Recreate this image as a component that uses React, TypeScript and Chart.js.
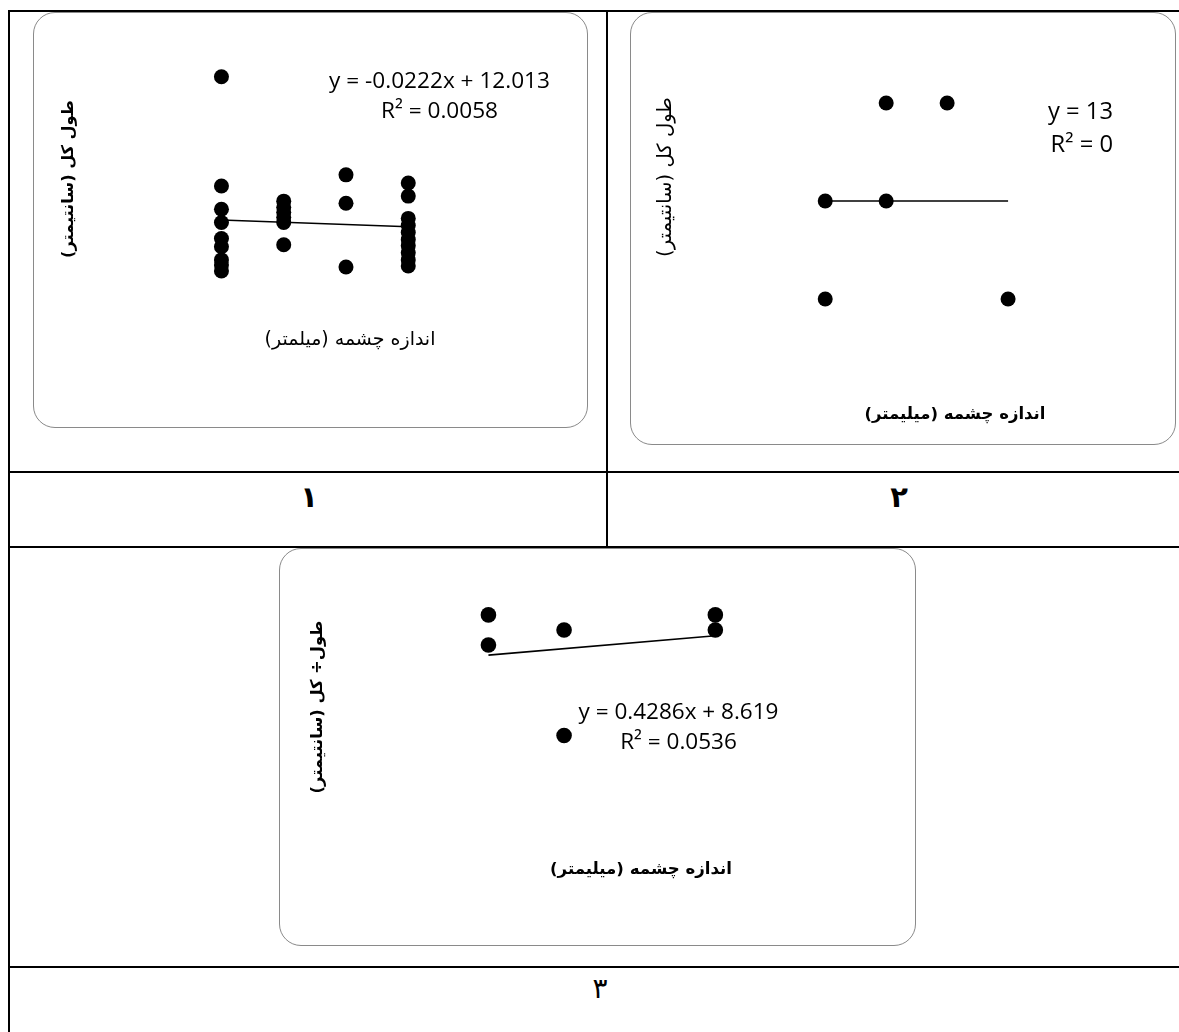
import React, { useEffect, useRef } from 'react';
import { Chart, registerables } from 'chart.js';

Chart.register(...registerables);

// ---------------- data ----------------
// Panel 1
const meshSize1 = [4, 4, 4, 4, 4, 4, 4, 4, 4, 5, 5, 5, 5, 5, 5, 6, 6, 6, 7, 7, 7, 7, 7, 7, 7, 7, 7, 7];
const totalLength1 = [
  13.34, 12.26, 12.03, 11.9, 11.74, 11.66, 11.53, 11.48, 11.42,
  12.11, 12.05, 12.0, 11.95, 11.9, 11.68,
  12.37, 12.09, 11.46,
  12.29, 12.16, 11.94, 11.87, 11.8, 11.73, 11.67, 11.6, 11.53, 11.47,
];
const trend1 = [-0.0222, 12.013]; // slope, intercept
const equation1 = ['y = -0.0222x + 12.013', 'R² = 0.0058'];

// Panel 2
const meshSize2 = [4, 4, 5, 5, 6, 7];
const totalLength2 = [13, 12, 14, 13, 14, 12];
const trend2 = [0, 13];
const equation2 = ['y = 13', 'R² = 0'];

// Panel 3
const meshSize3 = [4, 4, 5, 5, 7, 7];
const totalLength3 = [13, 11, 12, 5, 13, 12];
const trend3 = [0.4286, 8.619];
const equation3 = ['y = 0.4286x + 8.619', 'R² = 0.0536'];

// hidden axis ranges
const xRange1 = [1.094, 9.766];
const yRange1 = [9.943, 13.905];
const xRange2 = [0.92, 9.632];
const yRange2 = [10.586, 14.852];
const xRange3 = [1.334, 9.55];
const yRange3 = [-8.433, 16.917];

// texts
const yTitleA = 'طول کل (سانتیمتر)';
const yTitleB = 'طول÷ کل (سانتیمتر)';
const xTitleA = 'اندازه چشمه (میلمتر)';
const xTitleB = 'اندازه چشمه (میلیمتر)';
const panelNumbers = ['۱', '۲', '۳'];

// ---------------- helpers ----------------
const FA = '"DejaVu Sans", sans-serif';
const EN = '"Open Sans", sans-serif';

type Label = {
  text: string;
  x: number;
  y: number;
  width: number;
  weight: string;
  family: string;
  rotate?: boolean;
  rtl?: boolean;
  align?: CanvasTextAlign;
  fitText?: string;
};

type Box = { left: number; top: number; width: number; height: number };

function Panel(props: {
  box: Box;
  xs: number[];
  ys: number[];
  trend: number[];
  xRange: number[];
  yRange: number[];
  labels: Label[];
  radius: number;
}) {
  const { box, xs, ys, trend, xRange, yRange, labels, radius } = props;
  const ref = useRef<HTMLCanvasElement>(null);

  useEffect(() => {
    if (!ref.current) return;
    const pts = xs.map((x, i) => ({ x, y: ys[i] }));
    const x0 = Math.min(...xs);
    const x1 = Math.max(...xs);
    const line = [
      { x: x0, y: trend[0] * x0 + trend[1] },
      { x: x1, y: trend[0] * x1 + trend[1] },
    ];
    const labelPlugin = {
      id: 'panelLabels',
      afterDatasetsDraw(chart: any) {
        const ctx: CanvasRenderingContext2D = chart.ctx;
        for (const l of labels) {
          ctx.save();
          ctx.direction = l.rtl ? 'rtl' : 'ltr';
          ctx.font = `${l.weight} 100px ${l.family}`;
          const w = ctx.measureText(l.fitText ?? l.text).width;
          const size = (100 * l.width) / w;
          ctx.font = `${l.weight} ${size}px ${l.family}`;
          ctx.fillStyle = '#000';
          ctx.textAlign = l.align ?? 'center';
          ctx.textBaseline = 'middle';
          ctx.translate(l.x, l.y);
          if (l.rotate) ctx.rotate(-Math.PI / 2);
          ctx.fillText(l.text, 0, 0);
          ctx.restore();
        }
      },
    };
    const chart = new Chart(ref.current, {
      type: 'scatter',
      data: {
        datasets: [
          {
            data: pts,
            pointRadius: radius,
            pointBackgroundColor: '#000',
            pointBorderColor: '#000',
            pointBorderWidth: 0,
            showLine: false,
            order: 0,
          },
          {
            data: line,
            showLine: true,
            borderColor: '#000',
            borderWidth: 1.6,
            pointRadius: 0,
            fill: false,
            order: 1,
          },
        ],
      },
      options: {
        animation: false,
        responsive: true,
        maintainAspectRatio: false,
        events: [],
        layout: { padding: 0 },
        plugins: {
          legend: { display: false },
          tooltip: { enabled: false },
        },
        scales: {
          x: { type: 'linear', display: false, min: xRange[0], max: xRange[1] },
          y: { type: 'linear', display: false, min: yRange[0], max: yRange[1] },
        },
      },
      plugins: [labelPlugin],
    });
    return () => chart.destroy();
  }, []);

  return (
    <>
      <div
        style={{
          position: 'absolute',
          left: box.left,
          top: box.top,
          width: box.width,
          height: box.height,
          border: '1.8px solid #8a8a8a',
          borderRadius: 22,
          boxSizing: 'border-box',
          background: '#fff',
        }}
      />
      <div
        style={{
          position: 'absolute',
          left: box.left,
          top: box.top,
          width: box.width,
          height: box.height,
        }}
      >
        <canvas ref={ref} />
      </div>
    </>
  );
}

const hLine = (top: number): React.CSSProperties => ({
  position: 'absolute',
  left: 8,
  top,
  width: 1200,
  height: 2,
  background: '#000',
});

const numStyle = (cx: number, cy: number, bold: boolean): React.CSSProperties => ({
  position: 'absolute',
  left: cx,
  top: cy,
  transform: 'translate(-50%, -50%)',
  fontFamily: FA,
  fontWeight: bold ? 700 : 400,
  fontSize: bold ? 29 : 28,
  lineHeight: 1,
  color: '#000',
  whiteSpace: 'nowrap',
});

export default function App() {
  return (
    <div
      style={{
        position: 'absolute',
        left: 0,
        top: 0,
        width: 1179,
        height: 1032,
        overflow: 'hidden',
        background: '#fff',
      }}
    >
      {/* table grid */}
      <div style={hLine(10)} />
      <div style={{ position: 'absolute', left: 8, top: 10, width: 2, height: 1100, background: '#000' }} />
      <div style={{ position: 'absolute', left: 606, top: 10, width: 2, height: 537, background: '#000' }} />
      <div style={hLine(471)} />
      <div style={hLine(546)} />
      <div style={hLine(966)} />

      <Panel
        box={{ left: 33, top: 12, width: 555, height: 416 }}
        xs={meshSize1}
        ys={totalLength1}
        trend={trend1}
        xRange={xRange1}
        yRange={yRange1}
        radius={7.5}
        labels={[
          { text: yTitleA, x: 36, y: 167, width: 158, weight: 'bold', family: FA, rotate: true, rtl: true },
          { text: xTitleA, x: 317, y: 328, width: 171, weight: 'normal', family: FA, rtl: true },
          { text: equation1[0], x: 406.5, y: 70, width: 221, weight: 'normal', family: EN },
          { text: equation1[1], x: 406.5, y: 100, width: 221, weight: 'normal', family: EN, fitText: equation1[0] },
        ]}
      />

      <Panel
        box={{ left: 630, top: 12, width: 546, height: 433 }}
        xs={meshSize2}
        ys={totalLength2}
        trend={trend2}
        xRange={xRange2}
        yRange={yRange2}
        radius={7.5}
        labels={[
          { text: yTitleA, x: 36, y: 165, width: 160, weight: 'normal', family: FA, rotate: true, rtl: true },
          { text: xTitleB, x: 325, y: 403, width: 181, weight: 'bold', family: FA, rtl: true },
          { text: equation2[0], x: 483, y: 100, width: 65, weight: 'normal', family: EN, align: 'right' },
          { text: equation2[1], x: 483, y: 133, width: 65, weight: 'normal', family: EN, align: 'right', fitText: equation2[0] },
        ]}
      />

      <Panel
        box={{ left: 279, top: 548, width: 637, height: 398 }}
        xs={meshSize3}
        ys={totalLength3}
        trend={trend3}
        xRange={xRange3}
        yRange={yRange3}
        radius={7.8}
        labels={[
          { text: yTitleB, x: 39, y: 159, width: 173, weight: 'bold', family: FA, rotate: true, rtl: true },
          { text: xTitleB, x: 362, y: 322, width: 182, weight: 'bold', family: FA, rtl: true },
          { text: equation3[0], x: 399.5, y: 165, width: 200, weight: 'normal', family: EN },
          { text: equation3[1], x: 399.5, y: 195, width: 200, weight: 'normal', family: EN, fitText: equation3[0] },
        ]}
      />

      <div style={numStyle(309, 497, true)}>{panelNumbers[0]}</div>
      <div style={numStyle(899, 497, true)}>{panelNumbers[1]}</div>
      <div style={numStyle(600, 989, false)}>{panelNumbers[2]}</div>
    </div>
  );
}
